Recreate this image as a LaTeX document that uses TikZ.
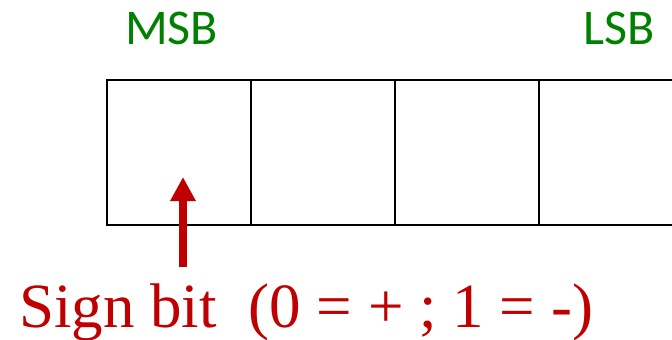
\documentclass[tikz,border=0pt]{standalone}
\usepackage{fontspec}
\usepackage{xcolor}
\usetikzlibrary{arrows.meta, positioning}
\newfontfamily\tagfont{Carlito}
\newfontfamily\labfont{Liberation Serif}
\definecolor{tagGreen}{HTML}{008000}
\definecolor{signRed}{HTML}{C00000}
\begin{document}
\begin{tikzpicture}[x=1pt, y=-1pt,
    cell/.style={draw, line width=2pt, minimum width=144pt, minimum height=145pt, inner sep=0pt},
    tg/.style={font=\tagfont\fontsize{50}{50}\selectfont, text=tagGreen, inner sep=0pt, anchor=base west},
    a/.style={-{Triangle[length=24pt, width=24pt]}, line width=8pt, signRed},
    al/.style={font=\labfont\fontsize{63}{63}\selectfont, text=signRed, inner sep=0pt, anchor=base west}
]
\useasboundingbox (0,0) rectangle (672,340);
% the four bit cells, the last one runs past the edge
\node[cell] (b3) at (179,152.5) {};
\node[cell] (b2) at (323,152.5) {};
\node[cell] (b1) at (467,152.5) {};
\node[cell] (b0) at (611,152.5) {};
\node[tg] (msb) at (125,44) {MSB};
\node[tg] (lsb) at (583,44) {LSB};
\node[al] (sign) at (19,327) {Sign bit\ \ (0 = + ; 1 = -)};
\coordinate (foot) at (183,267);
\coordinate (tip) at (183,177);
\draw[a] (foot) -- (tip);
\end{tikzpicture}
\end{document}
